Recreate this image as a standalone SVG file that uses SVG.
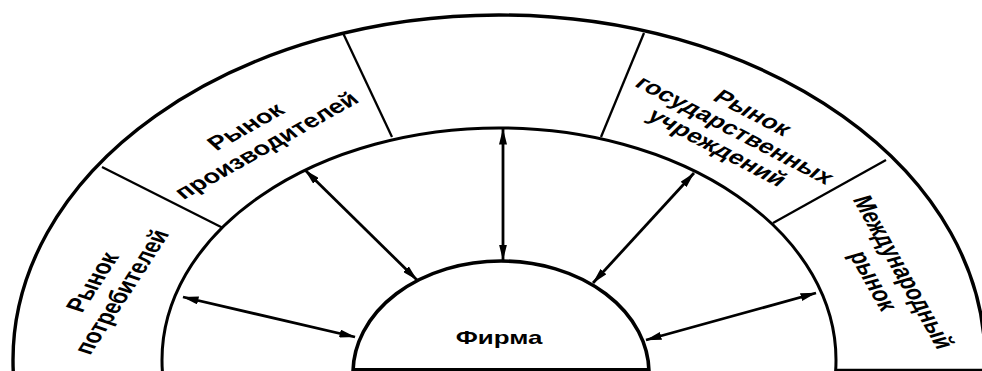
<svg xmlns="http://www.w3.org/2000/svg" width="982" height="371" viewBox="0 0 982 371">
<style>
.ring{fill:none;stroke:#000}
.div{stroke:#000;stroke-width:2.3;fill:none}
.arr{stroke:#000;stroke-width:2.8;fill:none;marker-start:url(#ah);marker-end:url(#ah)}
.lbl{font-family:"Liberation Sans",Arial,sans-serif;font-weight:bold;font-size:19.5px;text-anchor:middle;dominant-baseline:central;fill:#000}
</style>
<defs>
<marker id="ah" viewBox="0 0 16 8" refX="15.5" refY="4" markerWidth="16" markerHeight="8" markerUnits="userSpaceOnUse" orient="auto-start-reverse">
<path d="M0,0 L16,4 L0,8 Z" fill="#000"/>
</marker>
</defs>
<rect width="982" height="371" fill="#fff"/>
<g id="outer-ring">
<ellipse class="ring" cx="499" cy="360" rx="486" ry="345" stroke-width="3.4"/>
<line class="div" x1="102" y1="167" x2="223" y2="228"/>
<line class="div" x1="343" y1="33" x2="392" y2="137"/>
<line class="div" x1="644" y1="33" x2="601" y2="137"/>
<line class="div" x1="886" y1="160" x2="773" y2="223"/>
<line class="div" x1="837" y1="370" x2="982" y2="370"/>
</g>
<g id="middle-ring">
<ellipse class="ring" cx="499" cy="360" rx="337" ry="232" stroke-width="3"/>
</g>
<g id="connectors">
<line class="arr" x1="183" y1="297" x2="355" y2="337"/>
<line class="arr" x1="305" y1="170" x2="417" y2="280"/>
<line class="arr" x1="503" y1="129" x2="503" y2="260"/>
<line class="arr" x1="694" y1="173" x2="593" y2="283"/>
<line class="arr" x1="816" y1="293" x2="646" y2="340"/>
</g>
<g id="firm">
<ellipse cx="501" cy="373" rx="148" ry="112" fill="#fff" stroke="#000" stroke-width="3.6"/>
<line x1="353" y1="369.5" x2="650" y2="369.5" stroke="#000" stroke-width="3"/>
<text class="lbl" transform="translate(499,338) scale(1.4,1)" style="font-size:18.5px">Фирма</text>
</g>
<g id="consumer-market" transform="translate(107,287) scale(1.4,1) rotate(-65)">
<text class="lbl"><tspan x="0" y="-11.5">Рынок</tspan><tspan x="0" y="11.5">потребителей</tspan></text>
</g>
<g id="producer-market" transform="translate(256,136) scale(1.4,1) rotate(-38)">
<text class="lbl"><tspan x="0" y="-12">Рынок</tspan><tspan x="0" y="12">производителей</tspan></text>
</g>
<g id="government-market" transform="translate(735,130) scale(1.4,1) rotate(36)">
<text class="lbl"><tspan x="0" y="-21.5">Рынок</tspan><tspan x="0" y="0">государственных</tspan><tspan x="0" y="21.5">учреждений</tspan></text>
</g>
<g id="international-market" transform="translate(888.5,276.5) scale(1.4,1) rotate(68)">
<text class="lbl"><tspan x="0" y="-11.5">Международный</tspan><tspan x="0" y="11.5">рынок</tspan></text>
</g>
</svg>
